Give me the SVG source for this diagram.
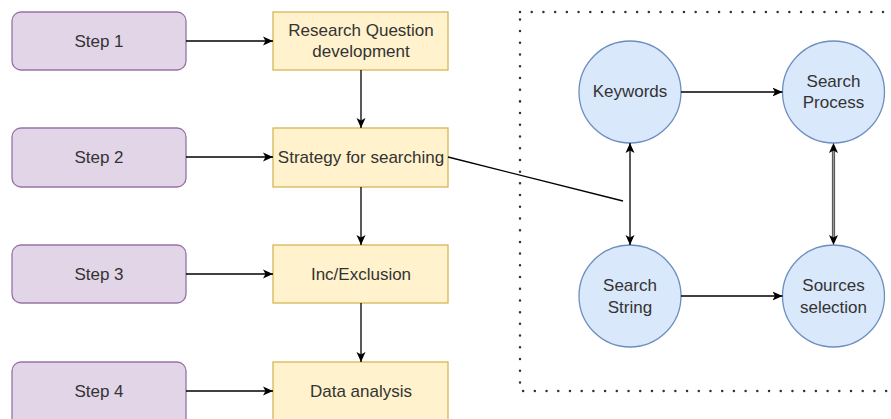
<svg xmlns="http://www.w3.org/2000/svg" width="891" height="419" viewBox="0 0 891 419">
<defs>
<marker id="ah" viewBox="0 0 10 10" refX="10" refY="5" markerWidth="10" markerHeight="10" markerUnits="userSpaceOnUse" orient="auto-start-reverse">
<path d="M0,0.5 L10,5 L0,9.5 L2.5,5 Z" fill="#000"/>
</marker>
</defs>
<style>
.step{fill:#e1d5e7;stroke:#9673a6;stroke-width:1.3}
.box{fill:#fff2cc;stroke:#d6b656;stroke-width:1.3}
.circ{fill:#dae8fc;stroke:#6c8ebf;stroke-width:1.3}
.t{font-family:"Liberation Sans",Arial,sans-serif;font-size:17px;fill:#333;text-anchor:middle}
.c{stroke:#000;stroke-width:1.3;fill:none}
</style>
<rect x="520" y="12" width="380" height="379" fill="none" stroke="#333" stroke-width="2.5" stroke-linecap="round" stroke-dasharray="0.01 11.7"/>
<g id="step1"><rect class="step" x="12" y="12" width="174" height="58" rx="9"/><text class="t" x="99" y="47">Step 1</text></g>
<g id="step2"><rect class="step" x="12" y="128" width="174" height="59" rx="9"/><text class="t" x="99" y="163">Step 2</text></g>
<g id="step3"><rect class="step" x="12" y="245" width="174" height="58" rx="9"/><text class="t" x="99" y="280">Step 3</text></g>
<g id="step4"><rect class="step" x="12" y="362" width="174" height="70" rx="9"/><text class="t" x="99" y="397">Step 4</text></g>
<g id="rq"><rect class="box" x="273" y="12" width="175" height="58"/><text class="t" x="361" y="36">Research Question</text><text class="t" x="361" y="57">development</text></g>
<g id="strategy"><rect class="box" x="273" y="128" width="175" height="59"/><text class="t" x="361" y="163">Strategy for searching</text></g>
<g id="inc"><rect class="box" x="273" y="245" width="175" height="58"/><text class="t" x="361" y="280">Inc/Exclusion</text></g>
<g id="data"><rect class="box" x="273" y="362" width="175" height="70"/><text class="t" x="361" y="397">Data analysis</text></g>
<g id="keywords"><circle class="circ" cx="630" cy="92" r="51"/><text class="t" x="630" y="97">Keywords</text></g>
<g id="process"><circle class="circ" cx="833.5" cy="92" r="51"/><text class="t" x="833.5" y="87">Search</text><text class="t" x="833.5" y="108">Process</text></g>
<g id="string"><circle class="circ" cx="630" cy="296" r="51"/><text class="t" x="630" y="291">Search</text><text class="t" x="630" y="313">String</text></g>
<g id="sources"><circle class="circ" cx="833.5" cy="296" r="51"/><text class="t" x="833.5" y="291">Sources</text><text class="t" x="833.5" y="313">selection</text></g>
<g id="connectors">
<line class="c" x1="186" y1="41" x2="273" y2="41" marker-end="url(#ah)"/>
<line class="c" x1="186" y1="157" x2="273" y2="157" marker-end="url(#ah)"/>
<line class="c" x1="186" y1="274" x2="273" y2="274" marker-end="url(#ah)"/>
<line class="c" x1="186" y1="391" x2="273" y2="391" marker-end="url(#ah)"/>
<line class="c" x1="361" y1="70" x2="361" y2="128" marker-end="url(#ah)"/>
<line class="c" x1="361" y1="187" x2="361" y2="245" marker-end="url(#ah)"/>
<line class="c" x1="361" y1="303" x2="361" y2="362" marker-end="url(#ah)"/>
<line class="c" x1="448" y1="157" x2="623" y2="201"/>
<line class="c" x1="681" y1="92" x2="782.5" y2="92" marker-end="url(#ah)"/>
<line class="c" x1="681" y1="296" x2="782.5" y2="296" marker-end="url(#ah)"/>
<line class="c" x1="630" y1="143" x2="630" y2="245" marker-start="url(#ah)" marker-end="url(#ah)"/>
<line x1="833.5" y1="146" x2="833.5" y2="242" stroke="#555" stroke-width="3.2"/>
<line x1="833.5" y1="146" x2="833.5" y2="242" stroke="#999" stroke-width="1.2"/>
<line x1="833.5" y1="150" x2="833.5" y2="143" stroke="none" marker-end="url(#ah)"/>
<line x1="833.5" y1="238" x2="833.5" y2="245" stroke="none" marker-end="url(#ah)"/>
</g>
</svg>
